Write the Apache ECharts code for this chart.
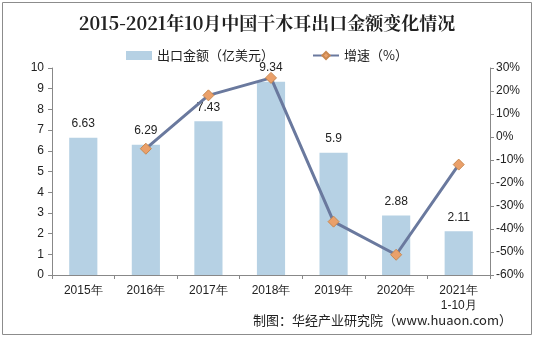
<!DOCTYPE html>
<html><head><meta charset="utf-8">
<script src="https://cdn.jsdelivr.net/npm/echarts@6/dist/echarts.min.js"></script>
<style>html,body{margin:0;padding:0;background:#fff}#c{width:534px;height:337px}</style>
</head><body><div id="c"></div>
<script>
var categories = ['2015年','2016年','2017年','2018年','2019年','2020年','2021年\n1-10月'];
var exportValue = [6.63, 6.29, 7.43, 9.34, 5.9, 2.88, 2.11];
var growthRate = [null, -5.1, 18.1, 25.7, -36.8, -51.2, -12];
var leftTicks = [0, 10, 1];
var rightTicks = [-60, 30, 10];

var chart = echarts.init(document.getElementById('c'));
var font = '"Liberation Sans", Arial, sans-serif';
chart.setOption({
  animation: false,
  graphic: [
    {type:'rect', shape:{x:2.5,y:2.5,width:529,height:332}, style:{fill:'none', stroke:'#8c8c8c', lineWidth:1}},
    {type:'text', left:'center', top:14, style:{text:'2015-2021年10月中国干木耳出口金额变化情况', font:'bold 18px "Noto Serif CJK SC","Noto Sans CJK SC", serif', fill:'#222'}},
    {type:'text', right:22, top:314, style:{text:'制图：华经产业研究院（www.huaon.com）', font:'13px "Noto Sans CJK SC", sans-serif', fill:'#222'}}
  ],
  legend: {
    top: 44, left: 'center', itemGap: 38, itemWidth: 26, itemHeight: 9,
    textStyle: {fontFamily:'"Noto Sans CJK SC", sans-serif', fontSize: 13, color:'#222'},
    data: [{name:'出口金额（亿美元）', icon:'rect'}, {name:'增速（%）'}]
  },
  grid: {left: 52, right: 44, top: 68, bottom: 62},
  xAxis: {
    type: 'category', data: categories,
    axisLine: {lineStyle:{color:'#888'}},
    axisTick: {show:true, lineStyle:{color:'#888'}, length:4},
    axisLabel: {color:'#222', fontSize: 12, fontFamily: font, margin: 8, lineHeight: 15}
  },
  yAxis: [
    {type:'value', min: leftTicks[0], max: leftTicks[1], interval: leftTicks[2],
     axisLine:{show:true, lineStyle:{color:'#888'}}, axisTick:{show:true, lineStyle:{color:'#888'}, length:4},
     splitLine:{show:false}, axisLabel:{color:'#222', fontSize:12, fontFamily:font, margin:8}},
    {type:'value', min: rightTicks[0], max: rightTicks[1], interval: rightTicks[2],
     axisLine:{show:true, lineStyle:{color:'#888'}}, axisTick:{show:true, lineStyle:{color:'#888'}, length:4},
     splitLine:{show:false}, axisLabel:{color:'#222', fontSize:12, fontFamily:font, margin:6, formatter:'{value}%'}}
  ],
  series: [
    {name:'出口金额（亿美元）', type:'bar', data: exportValue, barWidth: '45%',
     itemStyle:{color:'#b6d1e4'},
     label:{show:true, position:'top', color:'#222', fontSize:12, fontFamily:font, distance:8}},
    {name:'增速（%）', type:'line', yAxisIndex:1, data: growthRate,
     symbol:'diamond', symbolSize: 11,
     lineStyle:{color:'#6a799e', width:3},
     itemStyle:{color:'#eaa06a', borderColor:'#c98850', borderWidth:1}}
  ]
});
</script></body></html>
